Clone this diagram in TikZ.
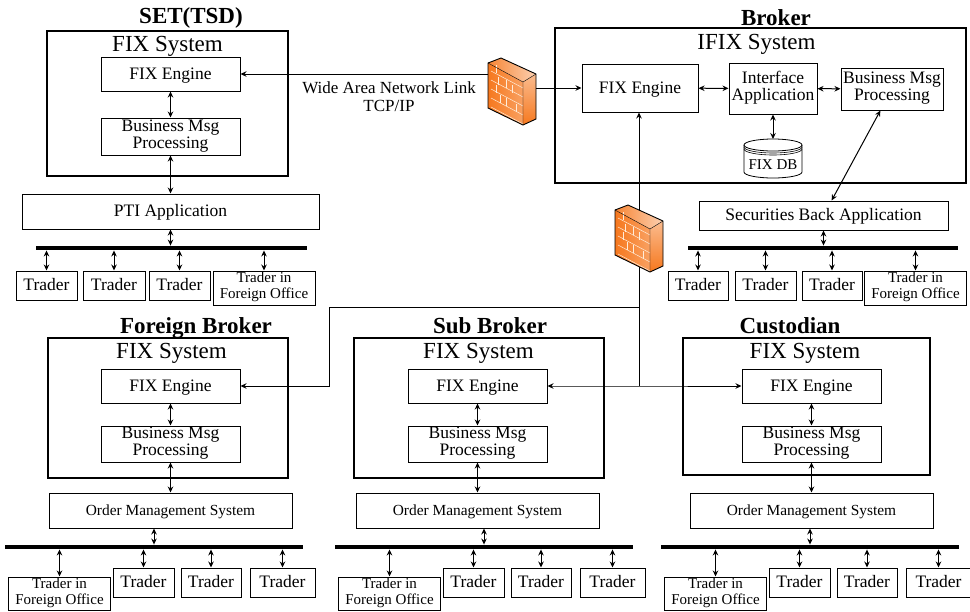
\documentclass[tikz,border=0pt]{standalone}
\usepackage{fontspec}
\setmainfont{Liberation Serif}
\usetikzlibrary{arrows.meta}

\definecolor{brickorange}{RGB}{246,120,30}

\tikzset{
    > = {Stealth[length = 6pt, width = 5.5pt]},
    box/.style = {draw, line width = 1pt, align = center, inner sep = 0pt, font = \fontsize{17.5}{17}\selectfont,
        execute at begin node = {\rule{0pt}{15pt}}, execute at end node = {\rule[-5pt]{0pt}{5pt}}},
    twoline/.style = {execute at begin node = {\rule{0pt}{18pt}}},
    sysbox/.style = {draw, line width = 2pt, inner sep = 0pt},
    header/.style = {font = \fontsize{23}{24}\bfseries\selectfont, inner sep = 0pt, anchor = base},
    systitle/.style = {font = \fontsize{23}{24}\selectfont, inner sep = 0pt, anchor = base},
    lantrader/.style = {box, minimum height = 29pt},
    farbox/.style = {box, twoline, minimum width = 102pt, font = \fontsize{15}{16}\selectfont},
    lanbus/.style = {fill = black, inner sep = 0pt, minimum height = 4.5pt},
    link/.style = {line width = 1pt, <->},
    firewall/.pic = {
        \shade[left color = brickorange, right color = brickorange!70] (0, 5) -- (35, 24) -- (35, 67) -- (0, 50) -- cycle;
        \shade[top color = brickorange!50, bottom color = brickorange] (35, 24) -- (48, 16) -- (48, 61) -- (35, 67) -- cycle;
        \shade[left color = brickorange!90, right color = brickorange!35] (0, 5) -- (13, 0) -- (48, 16) -- (35, 24) -- cycle;
        \foreach \y in {13, 22, 31, 40, 49}{
            \draw[orange!15, line width = 0.5pt] (3, \y) -- (35, {\y+17});
        }
        \foreach \x/\y in {8/7, 18/22, 10/19, 24/27, 8/27, 18/40, 12/37, 28/46}{
            \draw[orange!15, line width = 0.5pt] (\x, \y) -- ++ (0, 8);
        }
        \draw[line width = 0.9pt, line join = round] (0, 5) -- (13, 0) -- (48, 16) -- (48, 61) -- (35, 67) -- (0, 50) -- cycle;
        \draw[line width = 0.4pt] (0, 5) -- (35, 24) -- (35, 67);
        \draw[line width = 0.4pt] (35, 24) -- (48, 16);
        \coordinate (-west) at (0, 16);
        \coordinate (-east) at (48, 30);
        \coordinate (-north) at (24, 5);
        \coordinate (-south) at (24, 62);
    }
}

\begin{document}
\begin{tikzpicture}[x = 1pt, y = -1pt]
    \useasboundingbox (0, 0) rectangle (970, 611);

    % SET
    \node[header] at (191, 23) {SET(TSD)};
    \node[sysbox, minimum width = 241pt, minimum height = 145pt] at (167.5, 103.5) {};
    \node[systitle] at (167.5, 51) {FIX System};
    \node[box, minimum width = 139pt, minimum height = 34pt] (engset) at (170.5, 74) {FIX Engine};
    \node[box, twoline, minimum width = 139pt, minimum height = 37pt] (msgset) at (170.5, 136.5) {Business Msg\\Processing};
    \node[box, minimum width = 297pt, minimum height = 35pt] (pti) at (170.5, 211.5) {PTI Application};
    \node[lanbus, minimum width = 271pt] (busset) at (171.5, 248) {};
    \draw[link] (engset) -- (msgset);
    \draw[link] (msgset) -- (pti);
    \draw[link] (pti) -- (pti.south |- busset.north);
    \foreach \n/\x/\w in {1/46.5/61, 2/114/62, 3/179.5/61}{
        \node[lantrader, minimum width = \w pt] (trset\n) at (\x, 285.5) {Trader};
        \draw[link] (trset\n) -- (trset\n.north |- busset.south);
    }
    \node[farbox, minimum height = 34pt] (farset) at (264, 288) {Trader in\\Foreign Office};
    \draw[link] (farset) -- (farset.north |- busset.south);

    % Broker
    \node[header] at (776, 25) {Broker};
    \node[sysbox, minimum width = 411pt, minimum height = 155pt] at (760.5, 105.5) {};
    \node[systitle] at (756.5, 49) {IFIX System};
    \node[box, minimum width = 116pt, minimum height = 48pt] (engbrk) at (640, 88) {FIX Engine};
    \node[box, twoline, minimum width = 88pt, minimum height = 51pt] (ifapp) at (773, 88.5) {Interface\\Application};
    \node[box, twoline, minimum width = 102pt, minimum height = 42pt] (msgbrk) at (892, 89) {Business Msg\\Processing};
    \node[font = \fontsize{15}{16}\selectfont, inner sep = 0pt] (fixdb) at (773, 165) {FIX DB};
    \draw[line width = 0.8pt] (744, 145) -- (744, 172) arc[start angle = 180, end angle = 0, x radius = 29, y radius = 6] -- (802, 145);
    \draw[line width = 0.8pt] (773, 145) ellipse[x radius = 29, y radius = 6];
    \draw[line width = 0.6pt] (744, 147) arc[start angle = 180, end angle = 0, x radius = 29, y radius = 6];
    \draw[line width = 0.6pt] (744, 149) arc[start angle = 180, end angle = 0, x radius = 29, y radius = 6];
    \coordinate (dbtop) at (773, 139);
    \node[box, minimum width = 249pt, minimum height = 29pt] (secapp) at (823.5, 215.5) {Securities Back Application};
    \node[lanbus, minimum width = 270pt] (busbrk) at (823, 248) {};
    \draw[link] (engbrk) -- (ifapp);
    \draw[link] (ifapp) -- (msgbrk);
    \draw[link] (ifapp) -- (dbtop);
    \draw[link] (msgbrk) -- (secapp);
    \draw[link] (secapp) -- (secapp.south |- busbrk.north);
    \foreach \n/\x/\w in {1/698/60, 2/765.5/61, 3/832/60}{
        \node[lantrader, minimum width = \w pt] (trbrk\n) at (\x, 285.5) {Trader};
        \draw[link] (trbrk\n) -- (trbrk\n.north |- busbrk.south);
    }
    \node[farbox, minimum height = 34pt] (farbrk) at (915.5, 288) {Trader in\\Foreign Office};
    \draw[link] (farbrk) -- (farbrk.north |- busbrk.south);

    % lower three sites
    \foreach \n/\name/\hx/\sx/\sw/\sh/\tx/\dx/\bx in {
        fb/Foreign Broker/196/168/240/140/171.5/0/0,
        sb/Sub Broker/490/479/250/140/478.5/307/330,
        cu/Custodian/790/806.5/247/137/805/641/656}{
        \node[header] at (\hx, 333.5) {\name};
        \node[sysbox, minimum width = \sw pt, minimum height = \sh pt, anchor = north] at (\sx, 337) {};
        \node[systitle] at (\tx, 358) {FIX System};
        \begin{scope}[shift = {(\dx, 0)}]
            \node[box, minimum width = 139pt, minimum height = 34pt] (eng\n) at (170.5, 386) {FIX Engine};
            \node[box, twoline, minimum width = 139pt, minimum height = 36pt] (msg\n) at (170.5, 444) {Business Msg\\Processing};
            \node[box, minimum width = 243pt, minimum height = 35pt, font = \fontsize{15.4}{16}\selectfont] (oms\n) at (170.5, 510.5) {Order Management System};
        \end{scope}
        \begin{scope}[shift = {(\bx, 0)}]
            \node[lanbus, minimum width = 298pt] (bus\n) at (154, 547) {};
            \node[farbox, minimum height = 33pt] (far\n) at (59.5, 593.5) {Trader in\\Foreign Office};
            \draw[link] (far\n) -- (far\n.north |- bus\n.south);
            \foreach \t/\x/\w in {1/143.5/61, 2/211/60, 3/282.5/65}{
                \node[lantrader, minimum width = \w pt] (tr\n\t) at (\x, 582.5) {Trader};
                \draw[link] (tr\n\t) -- (tr\n\t.north |- bus\n.south);
            }
        \end{scope}
        \draw[link] (eng\n) -- (msg\n);
        \draw[link] (msg\n) -- (oms\n);
        \draw[link] (bus\n.north) -- (bus\n.north |- oms\n.south);
    }

    % network
    \pic (fwa) at (488, 58) {firewall};
    \pic (fwb) at (615, 205) {firewall};
    \coordinate (turn) at (639, 307);
    \coordinate (bend) at (329, 386);
    \coordinate (junc) at (639, 386);
    \draw[line width = 1pt, ->] (fwa-west) -- (engset);
    \draw[line width = 1pt, ->] (fwa-east) -- (engbrk);
    \draw[line width = 1pt, ->] (fwb-north) -- (engbrk.south -| fwb-north);
    \draw[line width = 1pt] (fwb-south) -- (junc);
    \draw[line width = 1pt, ->] (turn) -| (bend) -- (engfb);
    \draw[link] (engsb) -- (junc) -- (engcu);
    \node[font = \fontsize{17}{18}\selectfont, align = center, inner sep = 0pt] at (389, 97) {Wide Area Network Link\\TCP/IP};
\end{tikzpicture}
\end{document}
